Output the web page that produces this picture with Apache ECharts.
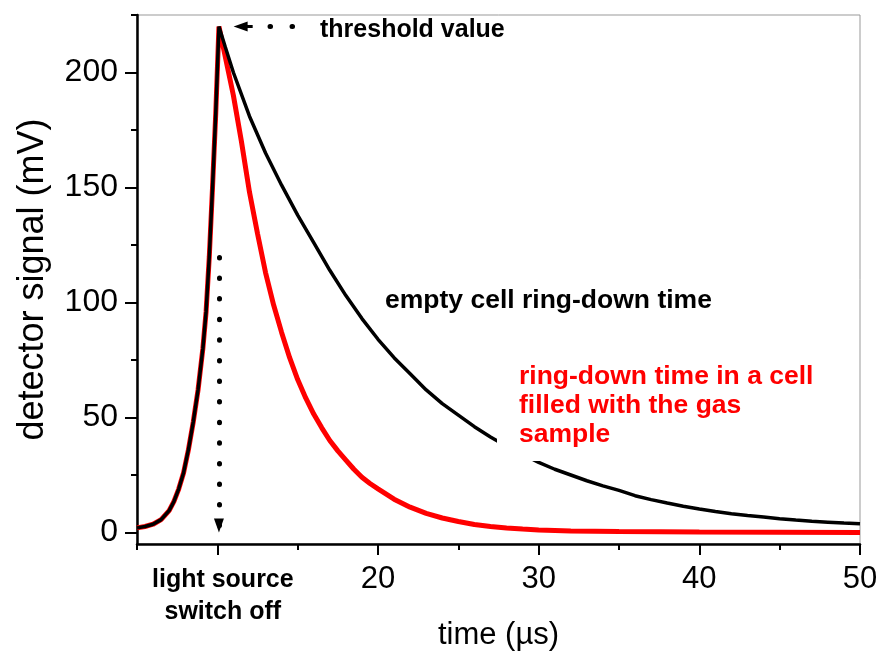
<!DOCTYPE html>
<html lang="en">
<head>
<meta charset="UTF-8">
<title>ring-down</title>
<script src="https://cdn.jsdelivr.net/npm/echarts@6.0.0/dist/echarts.min.js"></script>
<style>
  html, body { margin: 0; padding: 0; background: #fff; }
  #chart { width: 880px; height: 653px; }
</style>
</head>
<body>
<div id="chart"></div>
<script>
// rising edge, shared by both traces
let riseT = [5, 5.5, 6, 6.5, 7, 7.3, 7.6, 7.9, 8.2, 8.5, 8.8, 9.1, 9.3, 9.5, 9.7, 9.9, 10.1];
let riseV = [2, 2.6, 3.6, 5.6, 9.5, 13.5, 19, 26, 36, 48, 62, 80, 96, 120, 150, 182, 220];

// empty cell decay
let emptyT = [10.5, 11, 12, 13, 14, 15, 16, 17, 18, 19, 20, 21, 22, 23, 24, 25, 26, 27, 28, 29,
              30, 31, 32, 33, 34, 35, 36, 37, 38, 39, 40, 41, 42, 43, 44, 45, 46, 47, 48, 49, 50];
let emptyV = [211, 200, 181, 165, 151, 138, 126, 114, 103, 93, 84, 76, 69, 62, 56, 51, 46, 41.5, 37.5, 34,
              30.5, 27.5, 25, 22.5, 20.3, 18.3, 16, 14.3, 12.8, 11.4, 10.2, 9.1, 8.2, 7.4, 6.7, 6, 5.4, 4.9, 4.5, 4.1, 3.8];

// cell with gas sample decay
let gasT = [10.4, 10.7, 11, 11.5, 12, 12.5, 13, 13.5, 14, 14.5, 15, 15.5, 16, 16.5, 17, 17.5, 18, 18.5, 19, 19.5, 20,
            21, 22, 23, 24, 25, 26, 27, 28, 29, 30, 32, 35, 40, 45, 50];
let gasV = [210, 200, 190, 170, 148, 130, 113, 99, 87, 76, 66.5, 58.5, 51.5, 45.5, 40, 35.5, 31.5, 27.5, 24, 21.3, 19,
            14.5, 11, 8.3, 6.3, 4.8, 3.5, 2.6, 2, 1.5, 1.1, 0.7, 0.4, 0.2, 0.1, 0];

let xMajor = [10, 20, 30, 40, 50];
let xMinor = [5, 15, 25, 35, 45];
let yMajor = [0, 50, 100, 150, 200];
let yMinor = [25, 75, 125, 175, 225];

function pairs(ts, vs) {
  return ts.map((t, i) => [t, vs[i]]);
}
let emptyData = pairs(riseT, riseV).concat(pairs(emptyT, emptyV));
let gasData = pairs(riseT, riseV).concat(pairs(gasT, gasV));

const chart = echarts.init(document.getElementById('chart'));

const FONT = 'Liberation Sans, Arial, sans-serif';

let xBase = {
  type: 'value', min: 5, max: 50, position: 'bottom',
  splitLine: { show: false }
};
let yBase = {
  type: 'value', min: -5, max: 225, position: 'left',
  splitLine: { show: false }
};

chart.setOption({
  animation: false,
  textStyle: { fontFamily: FONT },
  grid: {
    left: 137, right: 20, top: 15, bottom: 109,
    outerBoundsMode: 'none',
    containLabel: false,
    show: true, borderColor: '#999', borderWidth: 1
  },
  xAxis: [
    Object.assign({}, xBase, {
      name: 'time (µs)',
      nameLocation: 'middle',
      nameGap: 76,
      nameMoveOverlap: false,
      nameTextStyle: { fontSize: 31, color: '#000', fontFamily: FONT },
      axisLine: { onZero: false, lineStyle: { color: '#000', width: 2.5 } },
      axisTick: { customValues: xMajor, length: 11, lineStyle: { color: '#000', width: 2 } },
      axisLabel: {
        customValues: xMajor,
        margin: 20,
        fontSize: 31,
        color: '#000',
        formatter: function (v) {
          if (v === 10) return '{b|light source}\n{b|switch off}';
          return String(v);
        },
        rich: {
          b: { fontSize: 25, fontWeight: 'bold', lineHeight: 32, color: '#000', fontFamily: FONT, padding: [0, 0, 0, 11] }
        }
      }
    }),
    Object.assign({}, xBase, {
      axisLine: { show: false, onZero: false },
      axisTick: { customValues: xMinor, length: 6, lineStyle: { color: '#000', width: 2 } },
      axisLabel: { show: false }
    })
  ],
  yAxis: [
    Object.assign({}, yBase, {
      name: 'detector signal (mV)',
      nameLocation: 'middle',
      nameGap: 86,
      nameMoveOverlap: false,
      nameTextStyle: { fontSize: 36, color: '#000', fontFamily: FONT },
      axisLine: { onZero: false, lineStyle: { color: '#000', width: 2.5 } },
      axisTick: { customValues: yMajor, length: 12, lineStyle: { color: '#000', width: 2 } },
      axisLabel: { customValues: yMajor, margin: 19, fontSize: 32, color: '#000' }
    }),
    Object.assign({}, yBase, {
      axisLine: { show: false, onZero: false },
      axisTick: { customValues: yMinor, length: 6, lineStyle: { color: '#000', width: 2 } },
      axisLabel: { show: false }
    })
  ],
  series: [
    {
      name: 'gas',
      type: 'line',
      data: gasData,
      showSymbol: false,
      lineStyle: { color: '#ff0000', width: 5 },
      z: 2
    },
    {
      name: 'empty',
      type: 'line',
      data: emptyData,
      showSymbol: false,
      lineStyle: { color: '#000', width: 3.5 },
      z: 3,
      markLine: {
        silent: true,
        animation: false,
        label: { show: false },
        symbol: 'none',
        data: [
          [
            { coord: [10.1, 119.6], symbol: 'none' },
            { coord: [10.1, 3], symbol: 'triangle', symbolSize: [10, 14],
              lineStyle: { color: '#000', width: 5, type: [0.5, 20.1], cap: 'round' } }
          ],
          [
            { coord: [12.2, 220], symbol: 'none' },
            { coord: [11.45, 220], symbol: 'triangle', symbolSize: [10, 14],
              lineStyle: { color: '#000', width: 3, type: 'solid' } }
          ],
          [
            { coord: [13.28, 220], symbol: 'none' },
            { coord: [14.7, 220], symbol: 'none',
              lineStyle: { color: '#000', width: 5, type: [0.5, 21.5], cap: 'round' } }
          ]
        ]
      }
    }
  ],
  graphic: [
    {
      type: 'text', z: 100, x: 320, y: 16,
      style: { text: 'threshold value', font: 'bold 25px ' + FONT, fill: '#000', lineHeight: 29, verticalAlign: 'top' }
    },
    {
      type: 'text', z: 100, x: 381, y: 284,
      style: {
        text: 'empty cell ring-down time', font: 'bold 26.5px ' + FONT, fill: '#000',
        lineHeight: 29, verticalAlign: 'top', backgroundColor: '#fff', padding: [2, 4, 2, 4]
      }
    },
    {
      type: 'text', z: 100, x: 497, y: 354,
      style: {
        text: 'ring-down time in a cell\nfilled with the gas\nsample', font: 'bold 26.5px ' + FONT, fill: '#ff0000',
        lineHeight: 29, verticalAlign: 'top', backgroundColor: '#fff', padding: [8, 10, 12, 22]
      }
    }
  ]
});
</script>
</body>
</html>
